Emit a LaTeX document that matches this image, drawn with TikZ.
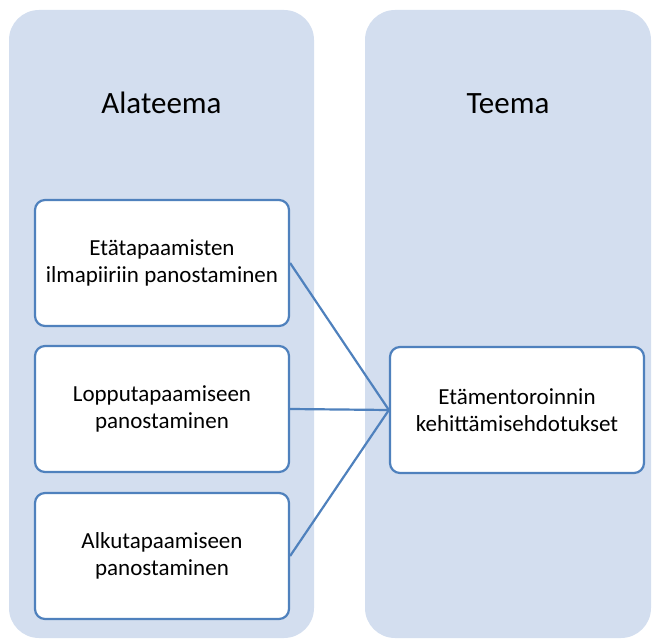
\documentclass[tikz,border=0pt]{standalone}
\usepackage{fontspec}
\setmainfont{Carlito}
\definecolor{panel}{HTML}{D3DEEF}
\definecolor{edge}{HTML}{4F81BD}
\begin{document}
\begin{tikzpicture}[x=1pt,y=-1pt,
  panelbox/.style={fill=panel,draw=none,rounded corners=30pt},
  itembox/.style={draw=edge,line width=2.2pt,fill=white,rounded corners=10pt,minimum width=254pt,minimum height=126pt,align=center,font=\fontsize{23}{26.5}\selectfont,inner sep=0pt},
  title/.style={font=\fontsize{31}{36}\selectfont,anchor=base},
  link/.style={draw=edge,line width=2.2pt}]
\useasboundingbox (0,0) rectangle (659,639);
\fill[panelbox] (9,10) rectangle (314,638);
\fill[panelbox] (365,10) rectangle (651,638);
\node[title] (t1) at (161.5,114) {Alateema};
\node[title] (t2) at (508,114) {Teema};
\node[itembox] (a) at (162,263) {Etätapaamisten\\ilmapiiriin panostaminen};
\node[itembox] (b) at (162,409) {Lopputapaamiseen\\panostaminen};
\node[itembox] (c) at (162,556) {Alkutapaamiseen\\panostaminen};
\node[itembox] (m) at (517,410) {Etämentoroinnin\\kehittämisehdotukset};
\draw[link] (a.east) -- (m.west);
\draw[link] (b.east) -- (m.west);
\draw[link] (c.east) -- (m.west);
\end{tikzpicture}
\end{document}
